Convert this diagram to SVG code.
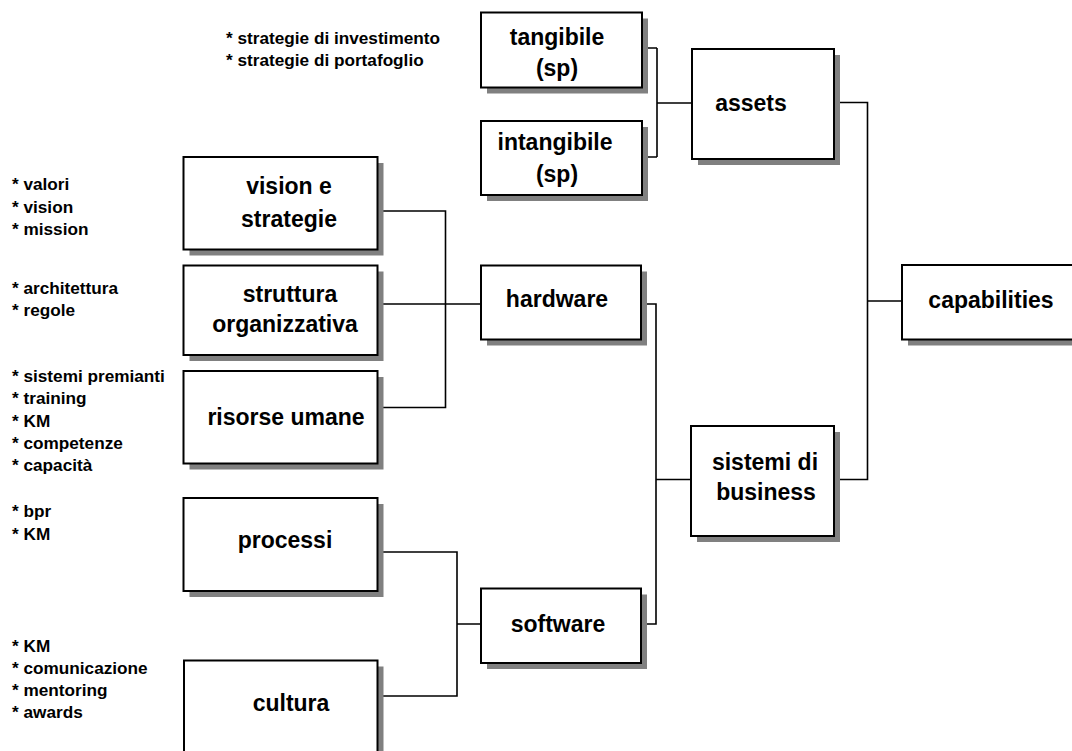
<svg xmlns="http://www.w3.org/2000/svg" width="1072" height="751" viewBox="0 0 1072 751">
<defs>
<style>
.box{fill:#fff;stroke:#000;stroke-width:2}
.sh{fill:#808080}
.lbl{font-family:"Liberation Sans",Arial,sans-serif;font-weight:bold;font-size:23px;text-anchor:middle;fill:#000}
.note{font-family:"Liberation Sans",Arial,sans-serif;font-weight:bold;font-size:17.2px;fill:#000}
.con{fill:none;stroke:#000;stroke-width:1.6}
</style>
</defs>
<rect width="1072" height="751" fill="#fff"/>
<g id="connectors">
<path class="con" d="M642,48H657M642,157H657M657,48V157M657,103H692"/>
<path class="con" d="M834,102.5H867.5V479.5H834M867.5,301H902"/>
<path class="con" d="M377.5,211H445.5V407.5H377.5M377.5,304H481"/>
<path class="con" d="M641,304H656V624H641M656,479.5H691"/>
<path class="con" d="M377.5,552H457V696H377.5M457,624H481"/>
</g>
<g id="notes">
<text class="note" x="226" y="43.5">* strategie di investimento</text>
<text class="note" x="226" y="65.5">* strategie di portafoglio</text>
<text class="note" x="12" y="190">* valori</text>
<text class="note" x="12" y="212.5">* vision</text>
<text class="note" x="12" y="235">* mission</text>
<text class="note" x="12" y="293.5">* architettura</text>
<text class="note" x="12" y="316">* regole</text>
<text class="note" x="12" y="382">* sistemi premianti</text>
<text class="note" x="12" y="404">* training</text>
<text class="note" x="12" y="426.5">* KM</text>
<text class="note" x="12" y="448.5">* competenze</text>
<text class="note" x="12" y="470.5">* capacità</text>
<text class="note" x="12" y="517">* bpr</text>
<text class="note" x="12" y="540">* KM</text>
<text class="note" x="12" y="651.5">* KM</text>
<text class="note" x="12" y="674">* comunicazione</text>
<text class="note" x="12" y="696">* mentoring</text>
<text class="note" x="12" y="718">* awards</text>
</g>
<g id="tangibile">
<rect class="sh" x="487" y="18.5" width="161" height="75"/>
<rect class="box" x="481" y="12.5" width="161" height="75"/>
<text class="lbl" x="557" y="45">tangibile</text>
<text class="lbl" x="557" y="76">(sp)</text>
</g>
<g id="intangibile">
<rect class="sh" x="487" y="127" width="161" height="74"/>
<rect class="box" x="481" y="121" width="161" height="74"/>
<text class="lbl" x="555" y="150">intangibile</text>
<text class="lbl" x="557" y="181.5">(sp)</text>
</g>
<g id="assets">
<rect class="sh" x="698" y="55" width="142" height="110"/>
<rect class="box" x="692" y="49" width="142" height="110"/>
<text class="lbl" x="751" y="111">assets</text>
</g>
<g id="vision">
<rect class="sh" x="189.5" y="163" width="194" height="92.5"/>
<rect class="box" x="183.5" y="157" width="194" height="92.5"/>
<text class="lbl" x="289" y="193.5">vision e</text>
<text class="lbl" x="289" y="227">strategie</text>
</g>
<g id="struttura">
<rect class="sh" x="189.5" y="271.5" width="194" height="89.5"/>
<rect class="box" x="183.5" y="265.5" width="194" height="89.5"/>
<text class="lbl" x="290" y="302">struttura</text>
<text class="lbl" x="285" y="332">organizzativa</text>
</g>
<g id="risorse">
<rect class="sh" x="189.5" y="377" width="194" height="92.5"/>
<rect class="box" x="183.5" y="371" width="194" height="92.5"/>
<text class="lbl" x="286" y="425">risorse umane</text>
</g>
<g id="processi">
<rect class="sh" x="189.5" y="504" width="194" height="93"/>
<rect class="box" x="183.5" y="498" width="194" height="93"/>
<text class="lbl" x="285" y="548">processi</text>
</g>
<g id="cultura">
<rect class="sh" x="190" y="666.5" width="193.5" height="100"/>
<rect class="box" x="184" y="660.5" width="193.5" height="100"/>
<text class="lbl" x="291" y="711">cultura</text>
</g>
<g id="hardware">
<rect class="sh" x="487" y="271.5" width="160" height="74"/>
<rect class="box" x="481" y="265.5" width="160" height="74"/>
<text class="lbl" x="557" y="307">hardware</text>
</g>
<g id="software">
<rect class="sh" x="487" y="594.5" width="160" height="74.5"/>
<rect class="box" x="481" y="588.5" width="160" height="74.5"/>
<text class="lbl" x="558" y="632">software</text>
</g>
<g id="sistemi">
<rect class="sh" x="697" y="432" width="143" height="110"/>
<rect class="box" x="691" y="426" width="143" height="110"/>
<text class="lbl" x="765" y="470">sistemi di</text>
<text class="lbl" x="766" y="500">business</text>
</g>
<g id="capabilities">
<rect class="sh" x="908" y="271" width="180" height="74.5"/>
<rect class="box" x="902" y="265" width="180" height="74.5"/>
<text class="lbl" x="991" y="307.5">capabilities</text>
</g>
</svg>
